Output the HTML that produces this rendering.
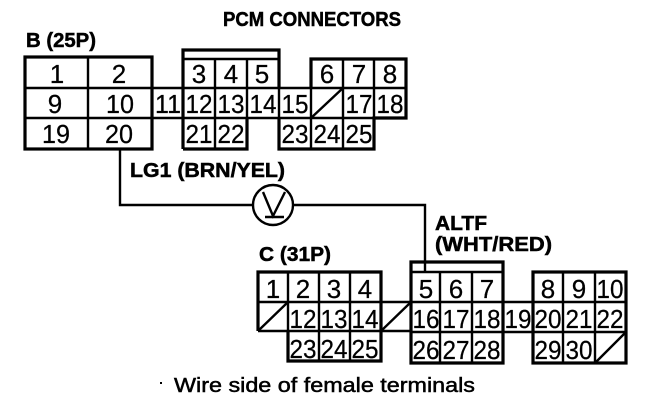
<!DOCTYPE html>
<html>
<head>
<meta charset="utf-8">
<style>
html,body{margin:0;padding:0;background:#fff;width:672px;height:420px;overflow:hidden}
svg{display:block}
text{font-family:"Liberation Sans",sans-serif;fill:#000}
.n text{font-size:26px;text-anchor:middle;stroke:#000;stroke-width:.25}
.b{font-weight:bold;font-size:20px;stroke:#000;stroke-width:.5}
</style>
</head>
<body>
<svg width="672" height="420" viewBox="0 0 672 420">
<rect width="672" height="420" fill="#fff"/>
<g fill="none" stroke="#000" stroke-width="2.4">
<!-- wire -->
<path d="M120 149V205H253M293 205H425V272"/>
<circle cx="273" cy="205" r="20"/>
<path d="M263 192L273 216L285 192M265 217H284"/>
<!-- inner lines B -->
<path d="M88 57V149M215 59V149M247 59V88M247 88V118M279 88V118M311 88V149M343 59V149M374 59V118"/>
<path d="M25 88H406M25 118H406M311 118L343 88"/>
<path d="M152 88V118"/>
<path d="M183 59H279"/>
<!-- inner lines C -->
<path d="M288 272V361M319 272V361M350 272V361M381 302V331"/>
<path d="M258 302H626M258 331H411M411 332H626"/>
<path d="M258 331L288 302M381 331L411 302"/>
<path d="M440 272V363M472 272V363M503 302V332M533 302V332M563 272V363M595 272V363M595 363L626 332"/>
<path d="M411 272H503"/>
</g>
<g fill="none" stroke="#000" stroke-width="3.2">
<rect x="25" y="57" width="127" height="92"/>
<path d="M183 149V50H279V88"/>
<path d="M183 149H247V118"/>
<path d="M311 88V59H406V118H374V149H279V118"/>
<path d="M258 331V272H381V331M381 331V361H288V331"/>
<path d="M411 363V262H503V363Z"/>
<rect x="533" y="272" width="93" height="91"/>
</g>
<g class="n">
<text x="57" y="83">1</text><text x="119" y="83">2</text>
<text x="55" y="113">9</text><text x="120" y="113" textLength="28" lengthAdjust="spacingAndGlyphs">10</text><text x="168" y="113" textLength="26" lengthAdjust="spacingAndGlyphs">11</text>
<text x="56" y="143" textLength="28" lengthAdjust="spacingAndGlyphs">19</text><text x="119" y="143" textLength="28" lengthAdjust="spacingAndGlyphs">20</text>
<text x="199" y="83">3</text><text x="231" y="83">4</text><text x="262" y="83">5</text>
<text x="327" y="83">6</text><text x="359" y="83">7</text><text x="390" y="83">8</text>
<text x="199" y="113" textLength="27" lengthAdjust="spacingAndGlyphs">12</text><text x="231" y="113" textLength="27" lengthAdjust="spacingAndGlyphs">13</text><text x="263" y="113" textLength="27" lengthAdjust="spacingAndGlyphs">14</text><text x="295" y="113" textLength="27" lengthAdjust="spacingAndGlyphs">15</text>
<text x="359" y="113" textLength="27" lengthAdjust="spacingAndGlyphs">17</text><text x="390" y="113" textLength="27" lengthAdjust="spacingAndGlyphs">18</text>
<text x="199" y="143" textLength="27" lengthAdjust="spacingAndGlyphs">21</text><text x="231" y="143" textLength="27" lengthAdjust="spacingAndGlyphs">22</text>
<text x="295" y="143" textLength="27" lengthAdjust="spacingAndGlyphs">23</text><text x="327" y="143" textLength="27" lengthAdjust="spacingAndGlyphs">24</text><text x="359" y="143" textLength="27" lengthAdjust="spacingAndGlyphs">25</text>
<text x="273" y="298">1</text><text x="303" y="298">2</text><text x="334" y="298">3</text><text x="365" y="298">4</text>
<text x="426" y="298">5</text><text x="456" y="298">6</text><text x="487" y="298">7</text>
<text x="548" y="298">8</text><text x="579" y="298">9</text><text x="610" y="298" textLength="27" lengthAdjust="spacingAndGlyphs">10</text>
<text x="303" y="328" textLength="27" lengthAdjust="spacingAndGlyphs">12</text><text x="334" y="328" textLength="27" lengthAdjust="spacingAndGlyphs">13</text><text x="365" y="328" textLength="27" lengthAdjust="spacingAndGlyphs">14</text>
<text x="426" y="328" textLength="27" lengthAdjust="spacingAndGlyphs">16</text><text x="456" y="328" textLength="27" lengthAdjust="spacingAndGlyphs">17</text><text x="487" y="328" textLength="27" lengthAdjust="spacingAndGlyphs">18</text><text x="518" y="328" textLength="27" lengthAdjust="spacingAndGlyphs">19</text>
<text x="548" y="328" textLength="27" lengthAdjust="spacingAndGlyphs">20</text><text x="579" y="328" textLength="27" lengthAdjust="spacingAndGlyphs">21</text><text x="610" y="328" textLength="27" lengthAdjust="spacingAndGlyphs">22</text>
<text x="303" y="358" textLength="27" lengthAdjust="spacingAndGlyphs">23</text><text x="334" y="358" textLength="27" lengthAdjust="spacingAndGlyphs">24</text><text x="365" y="358" textLength="27" lengthAdjust="spacingAndGlyphs">25</text>
<text x="426" y="359" textLength="27" lengthAdjust="spacingAndGlyphs">26</text><text x="456" y="359" textLength="27" lengthAdjust="spacingAndGlyphs">27</text><text x="487" y="359" textLength="27" lengthAdjust="spacingAndGlyphs">28</text>
<text x="548" y="359" textLength="27" lengthAdjust="spacingAndGlyphs">29</text><text x="579" y="359" textLength="27" lengthAdjust="spacingAndGlyphs">30</text>
</g>
<text class="b" x="223" y="26" textLength="178" lengthAdjust="spacingAndGlyphs">PCM CONNECTORS</text>
<text class="b" x="26" y="47" textLength="70" lengthAdjust="spacingAndGlyphs">B (25P)</text>
<text class="b" x="130" y="177" textLength="155" lengthAdjust="spacingAndGlyphs">LG1 (BRN/YEL)</text>
<text class="b" x="259" y="261" textLength="72" lengthAdjust="spacingAndGlyphs">C (31P)</text>
<text class="b" x="435" y="230" textLength="52" lengthAdjust="spacingAndGlyphs">ALTF</text>
<text class="b" x="435" y="251" textLength="117" lengthAdjust="spacingAndGlyphs">(WHT/RED)</text>
<text x="174" y="392" font-size="20" stroke="#000" stroke-width=".5" textLength="301" lengthAdjust="spacingAndGlyphs">Wire side of female terminals</text>
<rect x="160" y="382" width="2" height="2" fill="#000"/>
</svg>
</body>
</html>
